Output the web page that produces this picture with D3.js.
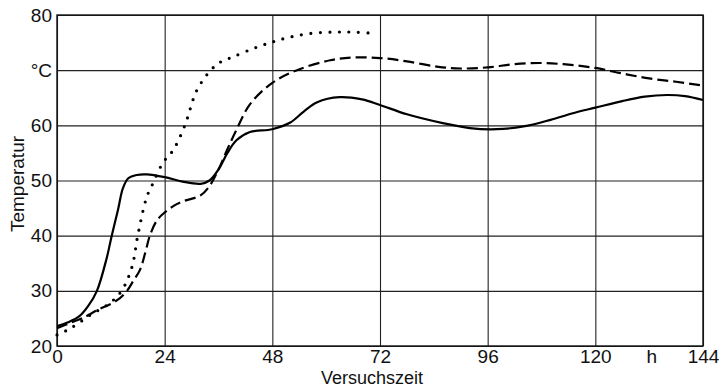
<!DOCTYPE html>
<html>
<head>
<meta charset="utf-8">
<script src="https://cdn.jsdelivr.net/npm/d3@7"></script>
<style>
  body { margin: 0; background: #fff; }
  svg { display: block; }
  .tick text { font-family: "Liberation Sans", Arial, sans-serif; font-size: 19px; fill: #111; }
</style>
</head>
<body>
<div id="chart"></div>
<script>
// tick values / labels
const xTicks = [0, 24, 48, 72, 96, 120, 144];
const yTicks = [20, 30, 40, 50, 60, 70, 80];
const yTickLabels = ["20", "30", "40", "50", "60", "°C", "80"];

// curves: [hours, °C]
const solidSeries = [
  [0, 23.6], [2.5, 24.3], [5, 25.4], [7, 27.3], [8.9, 30], [11.1, 36], [12.2, 40], [13.6, 44.7],
  [14.7, 48.6], [15.9, 50.4], [17.8, 51], [20, 51.1], [24, 50.6], [28, 49.8], [32, 49.4],
  [34, 50], [36, 52], [38, 55], [40, 57.3], [43, 58.8], [48, 59.3], [52, 60.5], [55, 62.5],
  [58, 64.2], [63, 65.1], [68, 64.7], [72, 63.7], [78, 62], [86, 60.4], [92, 59.5],
  [98, 59.3], [104, 59.8], [110, 61], [115, 62.2], [120, 63.2], [126, 64.4], [131, 65.2],
  [136, 65.5], [140, 65.3], [144, 64.6]
];
const dashedSeries = [
  [0, 23.2], [3, 24.2], [5.8, 25.1], [9, 26.5], [13.4, 28.3], [15.6, 30], [17, 31.8],
  [18.5, 33.8], [19.7, 37], [20.7, 40], [22.3, 42.8], [24, 44.2], [26, 45.4], [28, 46.2],
  [32, 47.3], [34, 49], [36, 52], [38, 55.7], [40, 59.2], [43, 63.8], [48, 67.7],
  [53.5, 70], [60.9, 71.8], [66, 72.3], [72, 72.2], [78, 71.6], [85, 70.6], [90, 70.3],
  [96, 70.5], [102, 71.1], [108, 71.3], [114, 71], [120, 70.4], [126, 69.4], [132, 68.5],
  [138, 67.9], [144, 67.2]
];
const dottedSeries = [
  [0, 22], [3, 23.2], [7.4, 25.6], [11.8, 27.8], [14.4, 30], [16.7, 34.3], [18, 40],
  [20, 47], [21.4, 49.5], [23.6, 53.2], [25.9, 55.5], [28.5, 60], [31.2, 66.4],
  [34.5, 70.2], [36.5, 71.5], [39.2, 72.4], [44, 74], [48, 75.1], [52, 76], [57, 76.7],
  [62, 76.9], [66, 76.9], [70.2, 76.7]
];

const width = 719, height = 388;
const margin = {top: 15, right: 16, bottom: 42, left: 57};
const innerW = width - margin.left - margin.right;
const innerH = height - margin.top - margin.bottom;

const svg = d3.select("#chart").append("svg")
    .attr("width", width)
    .attr("height", height);

const g = svg.append("g")
    .attr("transform", `translate(${margin.left},${margin.top})`);

const x = d3.scaleLinear().domain([0, 144]).range([0, innerW]);
const y = d3.scaleLinear().domain([20, 80]).range([innerH, 0]);

// grid + bottom labels
const xAxis = g.append("g")
    .attr("transform", `translate(0,${innerH})`)
    .call(d3.axisBottom(x).tickValues(xTicks).tickSize(-innerH).tickPadding(3));
xAxis.select(".domain").remove();
xAxis.selectAll(".tick line").attr("stroke", "#222").attr("stroke-width", 1.1);

const yAxis = g.append("g")
    .call(d3.axisLeft(y).tickValues(yTicks).tickSize(-innerW).tickPadding(5)
        .tickFormat((d, i) => yTickLabels[i]));
yAxis.select(".domain").remove();
yAxis.selectAll(".tick line").attr("stroke", "#222").attr("stroke-width", 1.1);

// frame
g.append("rect")
    .attr("width", innerW).attr("height", innerH)
    .attr("fill", "none").attr("stroke", "#111").attr("stroke-width", 1.4);

const line = d3.line()
    .x(d => x(d[0]))
    .y(d => y(d[1]))
    .curve(d3.curveCatmullRom.alpha(0.5));

g.append("path").datum(solidSeries)
    .attr("d", line).attr("fill", "none")
    .attr("stroke", "#000").attr("stroke-width", 2.2);

g.append("path").datum(dashedSeries)
    .attr("d", line).attr("fill", "none")
    .attr("stroke", "#000").attr("stroke-width", 2.2)
    .attr("stroke-dasharray", "11 5");

g.append("path").datum(dottedSeries)
    .attr("d", line).attr("fill", "none")
    .attr("stroke", "#000").attr("stroke-width", 3.2)
    .attr("stroke-linecap", "round")
    .attr("stroke-dasharray", "0 9.5");

// unit "h" between 120 and 144
g.append("text")
    .attr("x", x(132.6))
    .attr("y", innerH + 17)
    .attr("text-anchor", "middle")
    .attr("font-family", "Liberation Sans, Arial, sans-serif")
    .attr("font-size", 19)
    .attr("fill", "#111")
    .text("h");

// axis titles
svg.append("text")
    .attr("x", 372)
    .attr("y", 384)
    .attr("text-anchor", "middle")
    .attr("font-family", "Liberation Sans, Arial, sans-serif")
    .attr("font-size", 18)
    .attr("fill", "#111")
    .text("Versuchszeit");

svg.append("text")
    .attr("transform", "translate(24,184) rotate(-90)")
    .attr("text-anchor", "middle")
    .attr("font-family", "Liberation Sans, Arial, sans-serif")
    .attr("font-size", 19)
    .attr("fill", "#111")
    .text("Temperatur");
</script>
</body>
</html>
